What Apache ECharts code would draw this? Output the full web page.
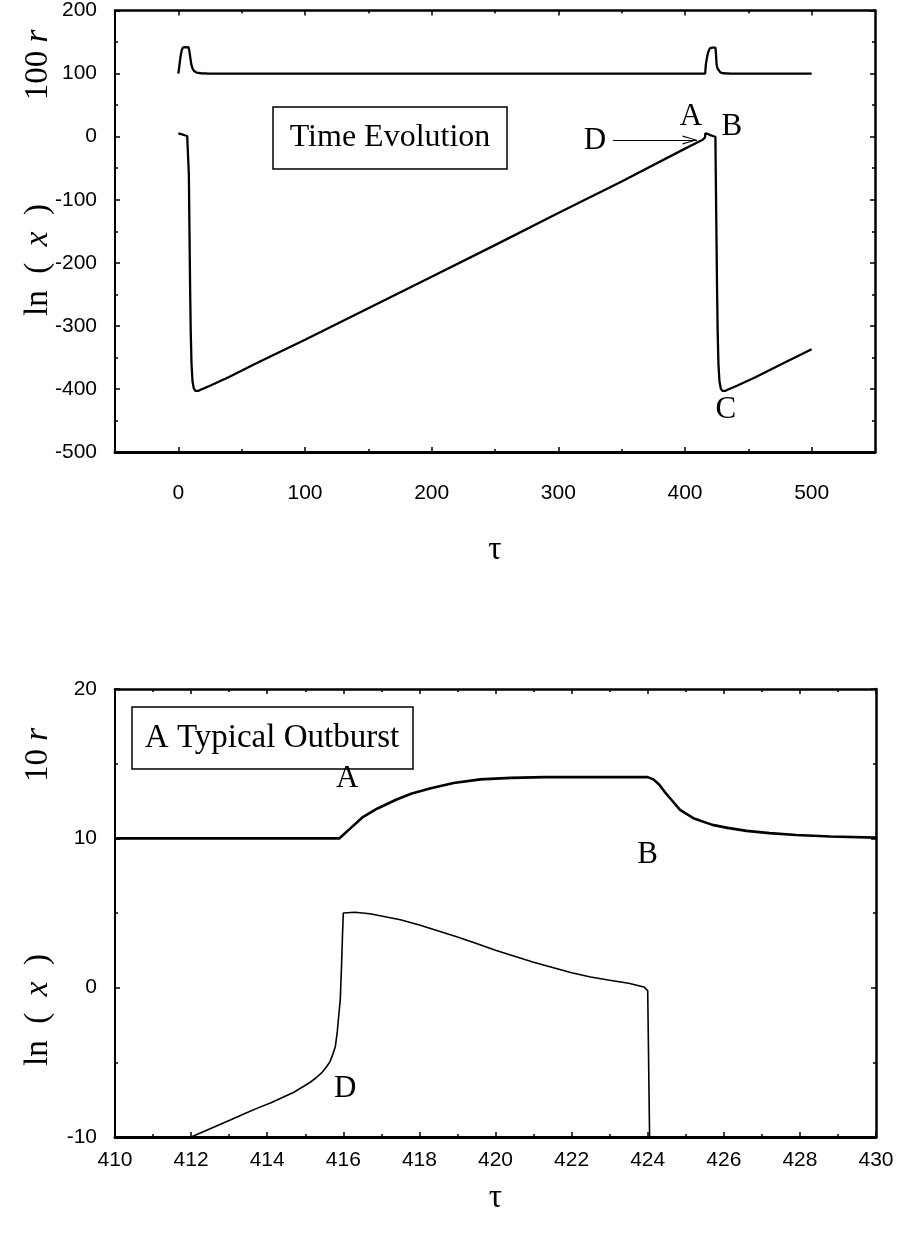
<!DOCTYPE html>
<html>
<head>
<meta charset="utf-8">
<script src="https://cdn.jsdelivr.net/npm/echarts@6/dist/echarts.min.js"></script>
<style>
html,body{margin:0;padding:0;background:#fff;}
#chart{width:899px;height:1234px;}
</style>
</head>
<body>
<div id="chart"></div>
<script>
// ---------- Data ----------
// Top panel: time evolution, tau 0..500
const evoR100 = [[0,100],[0.8,112],[1.8,128],[2.8,138],[3.8,141.5],[5,142],[8,142],[8.6,137],[9.4,126],[10.2,115],[11.2,108],[12.5,104],[14.5,101.5],[18,100.5],[24,100],
  [415.9,100],[416.5,115],[417.4,126],[418.3,134],[419.6,140],[421.3,141],[424,141],[424.3,136],[424.6,126],[424.85,117],[425.2,112],[425.7,108],[426.6,105],[427.9,102],[430,100.5],[436,100],[500,100]];
const evoLnX = [[0,5.2],[1.5,4.5],[3,3.5],[5,2.2],[7,1],[7.8,0.5],[8.3,-60],[8.8,-150],[9.3,-240],[9.8,-310],[10.4,-360],[11.2,-388],[12.2,-399],[13.5,-403],[14.5,-404],[16,-403],[18,-401],[25,-395],[40,-381],[60,-361],[100,-322],[150,-272],[200,-222],[250,-172],[300,-121],[350,-71],[400,-19],[410,-9],[414,-5],[415.5,-3],[415.9,-1],[416,5],[418,4.2],[420,2.5],[422,1],[424,-0.2],
  [424.3,-60],[424.8,-150],[425.3,-240],[425.8,-310],[426.4,-360],[427.2,-388],[428.2,-399],[429.5,-403],[430.5,-404],[432,-403],[434,-401],[441,-395],[456,-381],[476,-361],[500,-337]];
// Bottom panel: a typical outburst, tau 410..430
const burstR10 = [[410,10],[415.9,10],[416.2,10.7],[416.5,11.4],[416.9,12.0],[417.4,12.6],[417.8,13.0],[418.3,13.35],[418.9,13.7],[419.6,13.95],[420.4,14.05],[421.3,14.1],[424.0,14.1],[424.15,13.95],[424.3,13.6],[424.45,13.1],[424.6,12.65],[424.85,11.9],[425.2,11.35],[425.7,10.9],[426.1,10.7],[426.6,10.5],[427.2,10.35],[427.9,10.22],[428.8,10.12],[430,10.05]];
const burstLnX = [[412.0,-10],[412.5,-9.45],[413,-8.9],[413.4,-8.45],[413.76,-8.05],[414.1,-7.7],[414.4,-7.35],[414.7,-7.0],[414.96,-6.6],[415.15,-6.3],[415.3,-6.0],[415.45,-5.65],[415.56,-5.3],[415.65,-4.95],[415.72,-4.5],[415.79,-3.95],[415.84,-3.0],[415.87,-2.15],[415.92,-0.8],[415.95,1.2],[415.98,3.6],[416.0,5.0],[416.3,5.05],[416.7,4.95],[417,4.8],[417.5,4.55],[418,4.2],[418.5,3.8],[419,3.4],[419.5,2.95],[420,2.5],[420.5,2.1],[421,1.7],[421.5,1.35],[422,1.0],[422.5,0.72],[423,0.5],[423.5,0.3],[423.9,0.05],[424.0,-0.2],[424.05,-10]];
// Tick values
const evoXMajor = [0,100,200,300,400,500];
const evoXMinor = [50,150,250,350,450];
// Annotations [label, tau, value]
const evoMarks = [['A',404.6,31],['B',437,16],['C',432.3,-433],['D',329,-6]];
const evoArrow = [[343,-5.5],[409.5,-5.5]];
const burstMarks = [['A',416.1,14.0],['B',424.0,8.9],['D',416.05,-6.8]];

const SANS = '"Liberation Sans", Arial, sans-serif';
const SERIF = '"Liberation Serif", "Times New Roman", serif';

function xAx(gi, pos, o) {
  return Object.assign({
    type:'value', gridIndex:gi, position:pos,
    axisLine:{show:true, onZero:false, lineStyle:{color:'#000', width:2.5}},
    axisTick:{show:true, inside:true, length:5, lineStyle:{color:'#000', width:1.5}},
    axisLabel:{show:false},
    splitLine:{show:false}
  }, o);
}
function yAx(gi, pos, o) {
  return Object.assign({
    type:'value', gridIndex:gi, position:pos,
    axisLine:{show:true, onZero:false, lineStyle:{color:'#000', width:2.5}},
    axisTick:{show:true, inside:true, length:5, lineStyle:{color:'#000', width:1.5}},
    minorTick:{show:true, splitNumber:2, length:3, lineStyle:{color:'#000', width:1.5}},
    axisLabel:{show:false},
    splitLine:{show:false}, minorSplitLine:{show:false}
  }, o);
}
const lblSans = {show:true, color:'#000', fontFamily:SANS, fontSize:21};
const noLine = {show:false, onZero:false};

const CHEVRON = 'path://M0,0 L16,5 L0,10 L0,8.6 L12.6,5 L0,1.4 Z';
function marks(arr, arrowTip) {
  const data = arr.map(m=>({name:m[0], coord:[m[1], m[2]]}));
  if (arrowTip) {
    data.push({name:'', coord:arrowTip, symbol:CHEVRON, symbolSize:[15,9], symbolKeepAspect:false,
      symbolOffset:[-7,0], itemStyle:{color:'#000'}, label:{show:false}});
  }
  return {
    symbol:'circle', symbolSize:1, itemStyle:{color:'rgba(0,0,0,0)'},
    label:{show:true, position:'inside', color:'#000', fontFamily:SERIF, fontSize:31, formatter:p=>p.name},
    data: data
  };
}
const richT = {n:{fontFamily:SERIF,fontSize:33,fill:'#000'}, i:{fontFamily:SERIF,fontSize:33,fontStyle:'italic',fill:'#000'}};

const option = {
  animation:false,
  backgroundColor:'#fff',
  grid:[
    {left:115, top:6, width:760, height:446},
    {left:115, top:689, width:761, height:448}
  ],
  xAxis:[
    xAx(0,'bottom',{min:-50,max:550,
      axisLine:{show:true,onZero:false,lineStyle:{color:'#000',width:3}},
      axisTick:{show:true,inside:true,length:5,customValues:evoXMajor,lineStyle:{color:'#000',width:1.5}},
      axisLabel:Object.assign({},lblSans,{customValues:evoXMajor, margin:31}),
      name:'τ', nameLocation:'middle', nameGap:82, nameTextStyle:{fontFamily:SERIF,fontSize:33,color:'#000'}}),
    xAx(0,'bottom',{min:-50,max:550, axisLine:noLine,
      axisTick:{show:true,inside:true,length:3,customValues:evoXMinor,lineStyle:{color:'#000',width:1.5}}}),
    xAx(0,'top',{min:-50,max:550,
      axisTick:{show:true,inside:true,length:5,customValues:evoXMajor,lineStyle:{color:'#000',width:1.5}}}),
    xAx(0,'top',{min:-50,max:550, axisLine:noLine,
      axisTick:{show:true,inside:true,length:3,customValues:evoXMinor,lineStyle:{color:'#000',width:1.5}}}),
    xAx(1,'bottom',{min:410,max:430,interval:2,
      axisLine:{show:true,onZero:false,lineStyle:{color:'#000',width:3}},
      minorTick:{show:true,splitNumber:2,length:3,lineStyle:{color:'#000',width:1.5}},
      axisLabel:Object.assign({},lblSans,{margin:13}),
      name:'τ', nameLocation:'middle', nameGap:45, nameTextStyle:{fontFamily:SERIF,fontSize:33,color:'#000'}}),
    xAx(1,'top',{min:410,max:430,interval:2,
      minorTick:{show:true,splitNumber:2,length:3,lineStyle:{color:'#000',width:1.5}}})
  ],
  yAxis:[
    yAx(0,'left',{min:-500,max:200,interval:100, axisLabel:Object.assign({},lblSans,{margin:18}),
      axisLine:{show:true,onZero:false,lineStyle:{color:'#000',width:2}}}),
    yAx(0,'right',{min:-500,max:200,interval:100}),
    yAx(1,'left',{min:-10,max:20,interval:10, axisLabel:Object.assign({},lblSans,{margin:18}),
      axisLine:{show:true,onZero:false,lineStyle:{color:'#000',width:2}}}),
    yAx(1,'right',{min:-10,max:20,interval:10})
  ],
  series:[
    {type:'line', xAxisIndex:0, yAxisIndex:0, data:evoR100, showSymbol:false,
      lineStyle:{color:'#000', width:2.3}},
    {type:'line', xAxisIndex:0, yAxisIndex:0, data:evoLnX, showSymbol:false,
      lineStyle:{color:'#000', width:2.3},
      markPoint:marks(evoMarks, evoArrow[1]),
      markLine:{silent:true, symbol:['none','none'],
        lineStyle:{color:'#000', width:1, type:'solid'}, label:{show:false},
        data:[[{coord:evoArrow[0]},{coord:evoArrow[1]}]]}},
    {type:'line', xAxisIndex:4, yAxisIndex:2, data:burstR10, showSymbol:false,
      lineStyle:{color:'#000', width:2.6}},
    {type:'line', xAxisIndex:4, yAxisIndex:2, data:burstLnX, showSymbol:false,
      lineStyle:{color:'#000', width:1.6},
      markPoint:marks(burstMarks)}
  ],
  graphic:[
    // axis titles
    {type:'text', x:38, y:65, rotation:Math.PI/2, style:{text:'{n|100 }{i|r}', align:'center', verticalAlign:'middle', rich:richT}},
    {type:'text', x:38, y:260, rotation:Math.PI/2, style:{text:'{n|ln  (  }{i|x}{n|  )}', align:'center', verticalAlign:'middle', rich:richT}},
    {type:'text', x:38, y:755, rotation:Math.PI/2, style:{text:'{n|10 }{i|r}', align:'center', verticalAlign:'middle', rich:richT}},
    {type:'text', x:38, y:1010, rotation:Math.PI/2, style:{text:'{n|ln  (  }{i|x}{n|  )}', align:'center', verticalAlign:'middle', rich:richT}},
    // boxed captions
    {type:'rect', shape:{x:273, y:107, width:234, height:62}, style:{fill:'#fff', stroke:'#000', lineWidth:1.5}},
    {type:'text', x:390, y:138, style:{text:'Time Evolution', align:'center', verticalAlign:'middle', fontFamily:SERIF, fontSize:32, fill:'#000'}},
    {type:'rect', shape:{x:132, y:707, width:281, height:62}, style:{fill:'#fff', stroke:'#000', lineWidth:1.5}},
    {type:'text', x:272, y:738, style:{text:'A Typical Outburst', align:'center', verticalAlign:'middle', fontFamily:SERIF, fontSize:33, fill:'#000'}}
  ]
};
const chart = echarts.init(document.getElementById('chart'), null, {renderer:'canvas'});
chart.setOption(option);
</script>
</body>
</html>
